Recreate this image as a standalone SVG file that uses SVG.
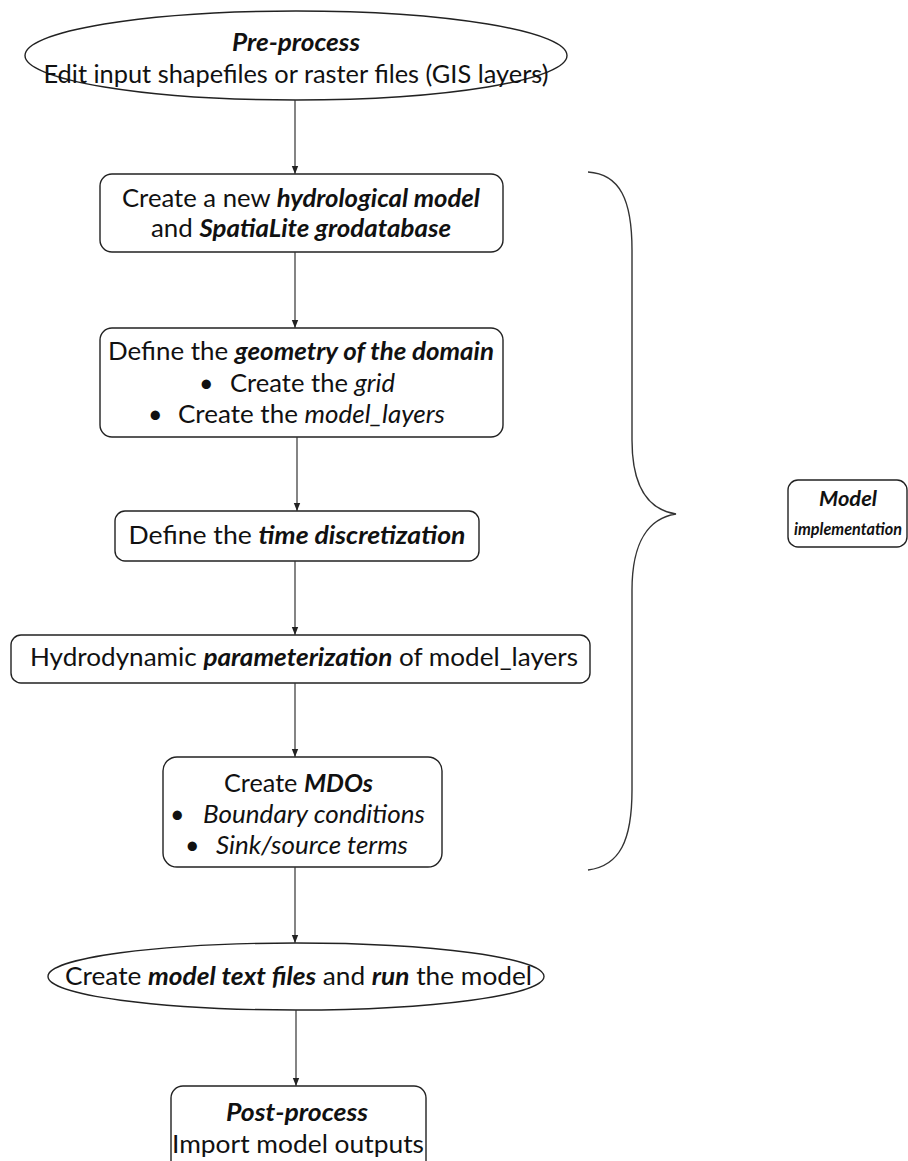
<svg xmlns="http://www.w3.org/2000/svg" width="908" height="1161" viewBox="0 0 908 1161">
<defs>
<marker id="arr" viewBox="0 0 10 10" refX="10" refY="5" markerWidth="8" markerHeight="8" markerUnits="userSpaceOnUse" orient="auto">
<path d="M0,1 L10,5 L0,9 z" fill="#222"/>
</marker>
<style>
.shape{fill:#fff;stroke:#222;stroke-width:1.4}
.t{font-family:Lato,"Liberation Sans",sans-serif;font-size:25px;fill:#111}
.bi{font-weight:bold;font-style:italic}
.i{font-style:italic}
.c{stroke:#333;stroke-width:1.2;fill:none}
</style>
</defs>
<rect width="908" height="1161" fill="#fff"/>
<g id="pre-process">
<ellipse class="shape" cx="296" cy="55.5" rx="271" ry="44.5"/>
<text class="t" x="296" y="51" text-anchor="middle" textLength="128" lengthAdjust="spacingAndGlyphs"><tspan class="bi">Pre-process</tspan></text>
<text class="t" x="296" y="83" text-anchor="middle" textLength="505" lengthAdjust="spacingAndGlyphs">Edit input shapefiles or raster files (GIS layers)</text>
</g>
<g id="create-model">
<rect class="shape" x="100" y="174" width="403" height="78" rx="12"/>
<text class="t" x="301" y="207" text-anchor="middle" textLength="358" lengthAdjust="spacingAndGlyphs">Create a new <tspan class="bi">hydrological model</tspan></text>
<text class="t" x="301" y="237" text-anchor="middle" textLength="300" lengthAdjust="spacingAndGlyphs">and <tspan class="bi">SpatiaLite grodatabase</tspan></text>
</g>
<g id="geometry">
<rect class="shape" x="100" y="328" width="403" height="109" rx="12"/>
<text class="t" x="301" y="360" text-anchor="middle" textLength="386" lengthAdjust="spacingAndGlyphs">Define the <tspan class="bi">geometry of the domain</tspan></text>
<text class="t" x="199" y="392">•</text>
<text class="t" x="230" y="392" textLength="165" lengthAdjust="spacingAndGlyphs">Create the <tspan class="i">grid</tspan></text>
<text class="t" x="148" y="423">•</text>
<text class="t" x="178" y="423" textLength="267" lengthAdjust="spacingAndGlyphs">Create the <tspan class="i">model_layers</tspan></text>
</g>
<g id="time">
<rect class="shape" x="115" y="511" width="364" height="50" rx="10"/>
<text class="t" x="297" y="544" text-anchor="middle" textLength="337" lengthAdjust="spacingAndGlyphs">Define the <tspan class="bi">time discretization</tspan></text>
</g>
<g id="parameterization">
<rect class="shape" x="11" y="635" width="579" height="48" rx="10"/>
<text class="t" x="304" y="666" text-anchor="middle" textLength="548" lengthAdjust="spacingAndGlyphs">Hydrodynamic <tspan class="bi">parameterization</tspan> of model_layers</text>
</g>
<g id="mdos">
<rect class="shape" x="163" y="757" width="279" height="110" rx="14"/>
<text class="t" x="298.5" y="792" text-anchor="middle" textLength="149" lengthAdjust="spacingAndGlyphs">Create <tspan class="bi">MDOs</tspan></text>
<text class="t" x="170" y="823">•</text>
<text class="t" x="203" y="823" textLength="222" lengthAdjust="spacingAndGlyphs"><tspan class="i">Boundary conditions</tspan></text>
<text class="t" x="185" y="854">•</text>
<text class="t" x="216" y="854" textLength="192" lengthAdjust="spacingAndGlyphs"><tspan class="i">Sink/source terms</tspan></text>
</g>
<g id="run">
<ellipse class="shape" cx="296" cy="976.5" rx="248" ry="33.5"/>
<text class="t" x="298.5" y="985" text-anchor="middle" textLength="467" lengthAdjust="spacingAndGlyphs">Create <tspan class="bi">model text files</tspan> and <tspan class="bi">run</tspan> the model</text>
</g>
<g id="post-process">
<rect class="shape" x="171" y="1086" width="255" height="90" rx="12"/>
<text class="t" x="297" y="1121" text-anchor="middle" textLength="142" lengthAdjust="spacingAndGlyphs"><tspan class="bi">Post-process</tspan></text>
<text class="t" x="298" y="1153" text-anchor="middle" textLength="252" lengthAdjust="spacingAndGlyphs">Import model outputs</text>
</g>
<g id="model-implementation">
<path class="c" d="M588,172 C620,174 632,200 632,250 L632,440 C632,490 650,510 676,514 C650,518 632,540 632,590 L632,790 C632,840 620,866 588,870" style="stroke-width:1.4"/>
<rect class="shape" x="788" y="480" width="119" height="67" rx="10"/>
<text class="t" x="848" y="506" text-anchor="middle" textLength="58" lengthAdjust="spacingAndGlyphs" style="font-size:21px"><tspan class="bi">Model</tspan></text>
<text class="t" x="848" y="535" text-anchor="middle" textLength="108" lengthAdjust="spacingAndGlyphs" style="font-size:17px"><tspan class="bi">implementation</tspan></text>
</g>
<g id="connectors">
<line class="c" x1="295" y1="100" x2="295" y2="174" marker-end="url(#arr)"/>
<line class="c" x1="295" y1="252" x2="295" y2="328" marker-end="url(#arr)"/>
<line class="c" x1="297" y1="437" x2="297" y2="511" marker-end="url(#arr)"/>
<line class="c" x1="295" y1="561" x2="295" y2="635" marker-end="url(#arr)"/>
<line class="c" x1="295" y1="683" x2="295" y2="757" marker-end="url(#arr)"/>
<line class="c" x1="295" y1="867" x2="295" y2="943" marker-end="url(#arr)"/>
<line class="c" x1="296" y1="1010" x2="296" y2="1086" marker-end="url(#arr)"/>
</g>
</svg>
